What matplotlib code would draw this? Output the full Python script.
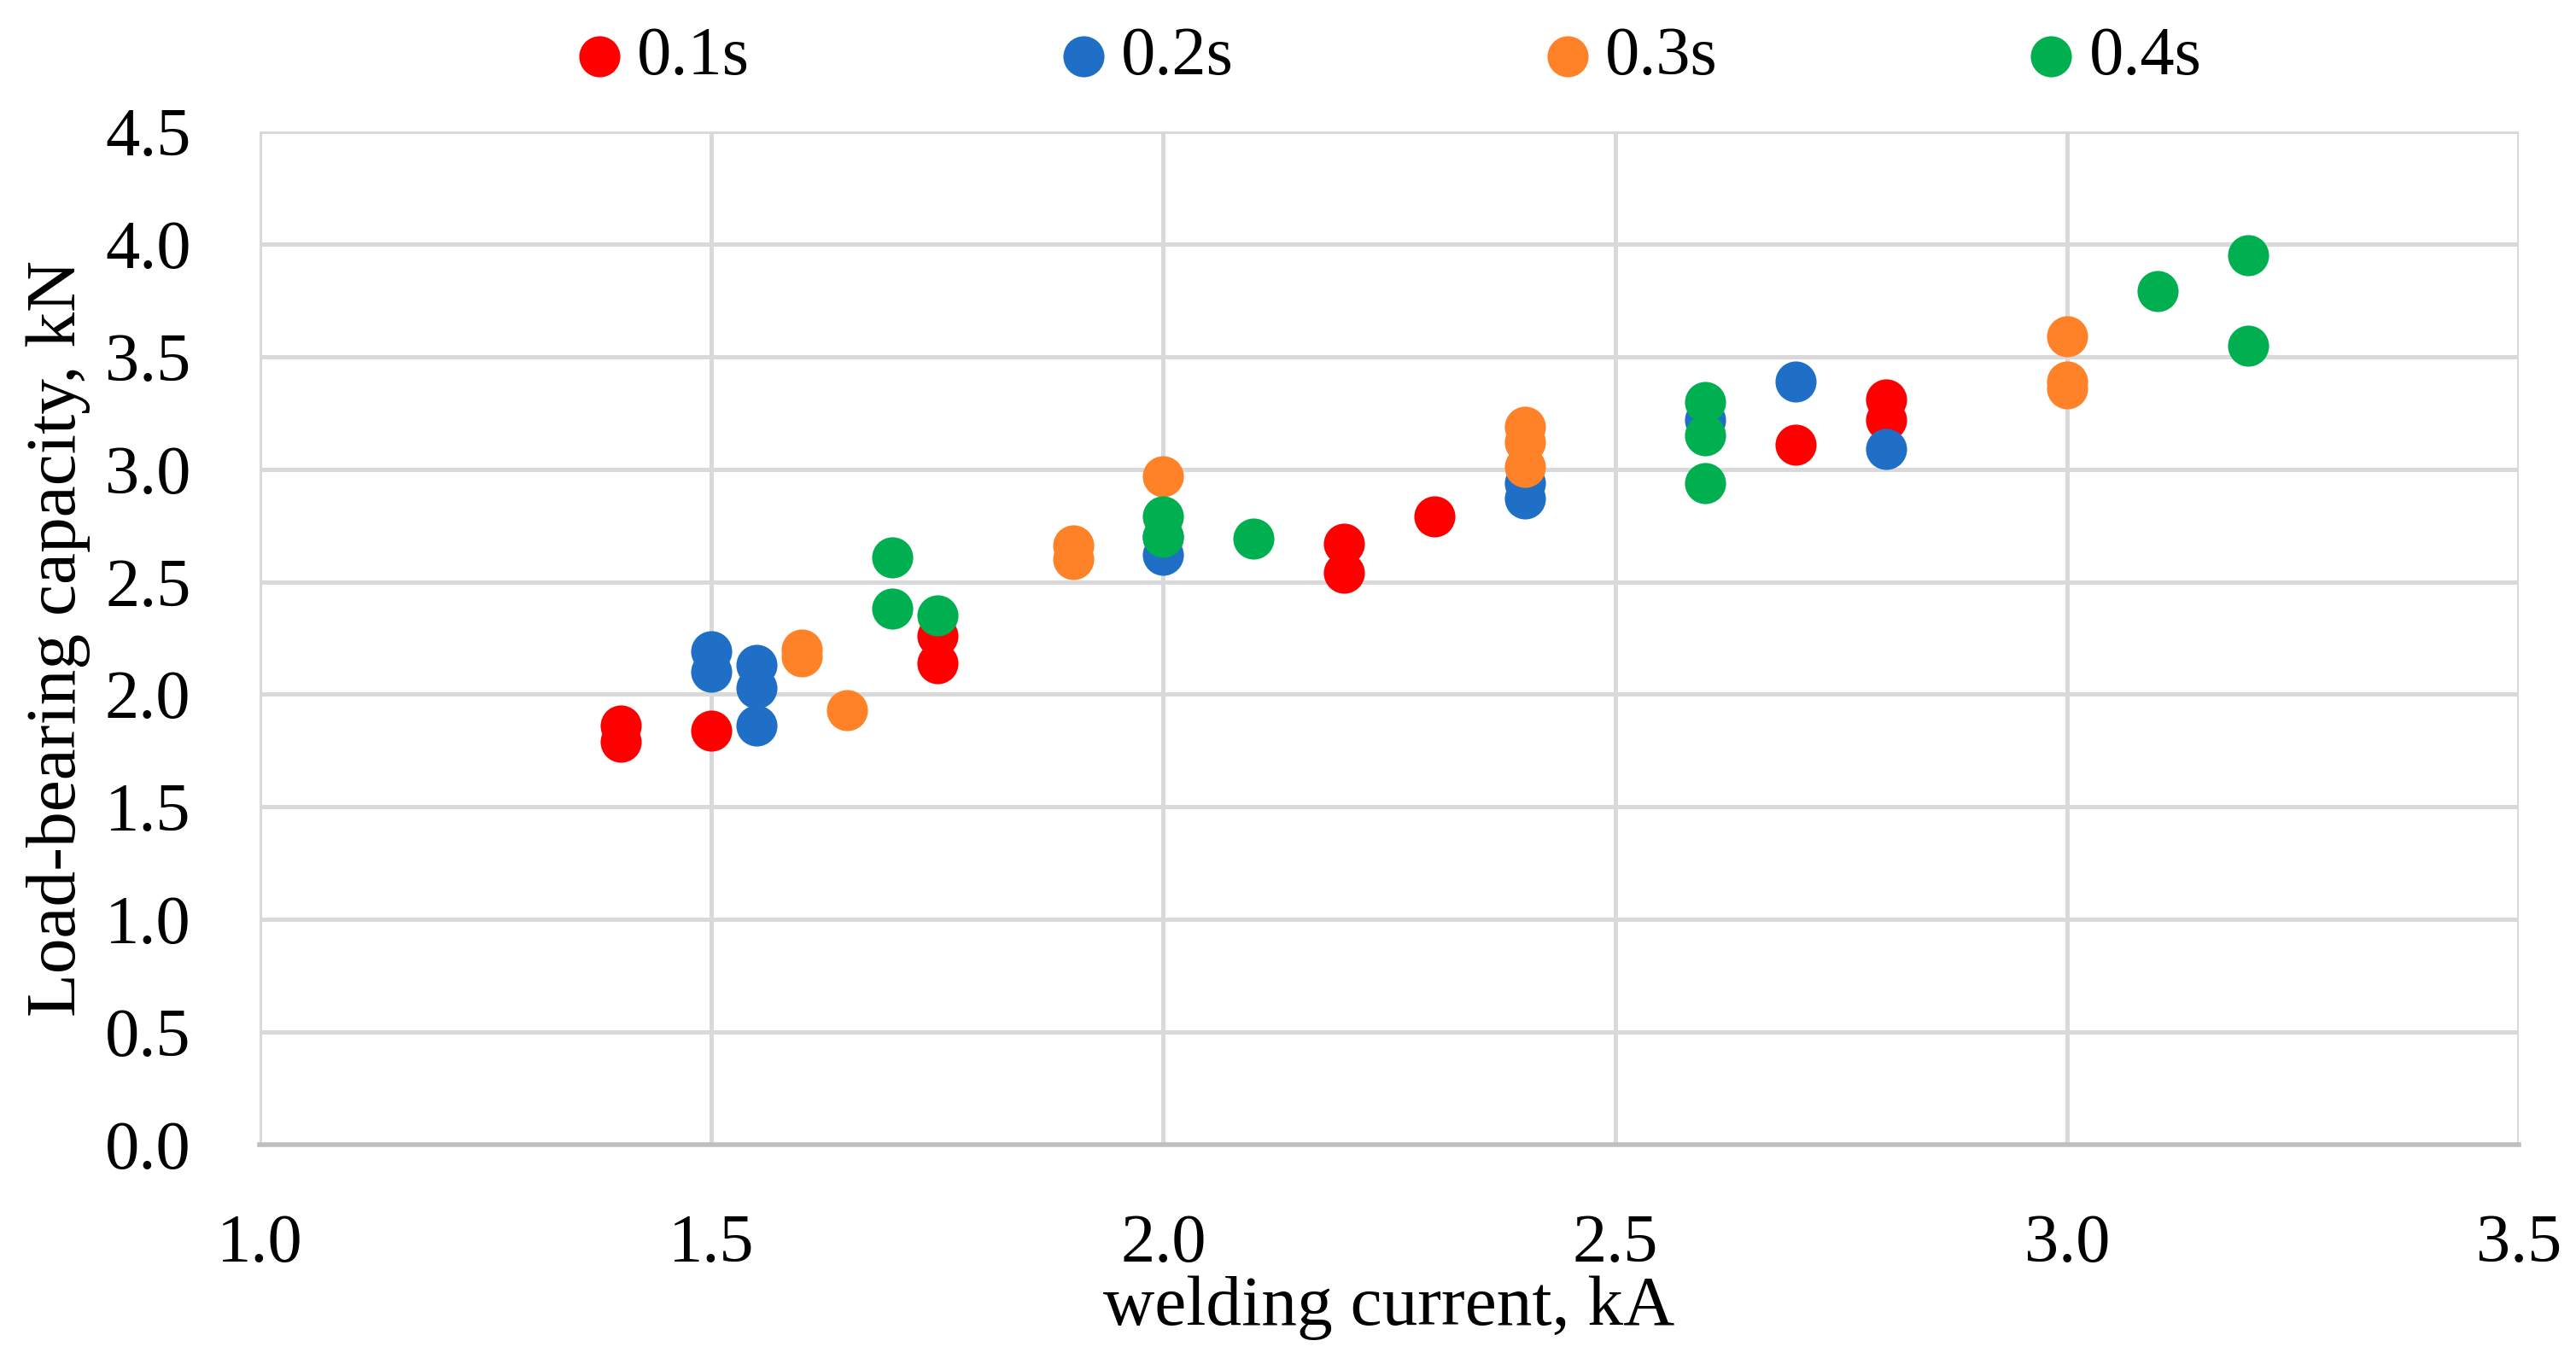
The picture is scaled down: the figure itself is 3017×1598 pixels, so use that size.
import numpy as np
import matplotlib.pyplot as plt

# welding time series (current kA, load kN)
x_01 = [1.4, 1.4, 1.5, 1.75, 1.75, 2.2, 2.2, 2.3, 2.7, 2.8, 2.8]
y_01 = [1.86, 1.79, 1.84, 2.26, 2.14, 2.67, 2.54, 2.79, 3.11, 3.31, 3.22]

x_02 = [1.5, 1.5, 1.55, 1.55, 1.55, 2.0, 2.0, 2.4, 2.4, 2.6, 2.7, 2.8]
y_02 = [2.19, 2.10, 2.13, 2.03, 1.86, 2.70, 2.62, 2.94, 2.87, 3.22, 3.39, 3.09]

x_03 = [1.6, 1.6, 1.65, 1.9, 1.9, 2.0, 2.4, 2.4, 2.4, 3.0, 3.0, 3.0]
y_03 = [2.20, 2.17, 1.93, 2.66, 2.60, 2.97, 3.19, 3.12, 3.01, 3.59, 3.39, 3.36]

x_04 = [1.7, 1.7, 1.75, 2.0, 2.0, 2.1, 2.6, 2.6, 2.6, 3.1, 3.2, 3.2]
y_04 = [2.61, 2.38, 2.35, 2.79, 2.70, 2.69, 3.30, 3.15, 2.94, 3.79, 3.95, 3.55]

labels = ['0.1s', '0.2s', '0.3s', '0.4s']
colors = ['#FF0000', '#1F6FC6', '#FF8229', '#00B050']

xticks = [1.0, 1.5, 2.0, 2.5, 3.0, 3.5]
yticks = np.arange(0, 4.51, 0.5)

plt.rcParams['font.family'] = ['Liberation Serif', 'DejaVu Serif']

fig = plt.figure(figsize=(15.085, 7.99), dpi=200)
ax = fig.add_axes([0.1008, 0.1608, 0.877, 0.7428])

series = [(x_01, y_01), (x_02, y_02), (x_03, y_03), (x_04, y_04)]
for (xs, ys), lab, c in zip(series, labels, colors):
    ax.scatter(xs, ys, s=300, color=c, label=lab, linewidths=0, zorder=3)

ax.set_xlim(1.0, 3.5)
ax.set_ylim(0, 4.5)
ax.set_xticks(xticks)
ax.set_yticks(yticks)
ax.set_xticklabels(['%.1f' % v for v in xticks])
ax.set_yticklabels(['%.1f' % v for v in yticks])
ax.grid(True, color='#D9D9D9', linewidth=1.8, zorder=0)
ax.tick_params(length=0, labelsize=29, pad=29)
for s in ['left', 'right', 'top']:
    ax.spines[s].set_visible(False)
ax.spines['bottom'].set_color('#BFBFBF')
ax.spines['bottom'].set_linewidth(2.0)

ax.set_xlabel('welding current, kA', fontsize=30, labelpad=0)
ax.set_ylabel('Load-bearing capacity, kN', fontsize=30, labelpad=6)

fig.legend(loc='center', bbox_to_anchor=(0.539, 0.958), ncol=4, frameon=False,
           fontsize=29, handlelength=0.7, handletextpad=0.2, columnspacing=4.5,
           borderpad=0.2)

fig.savefig('out.png', dpi=200, facecolor='white')
